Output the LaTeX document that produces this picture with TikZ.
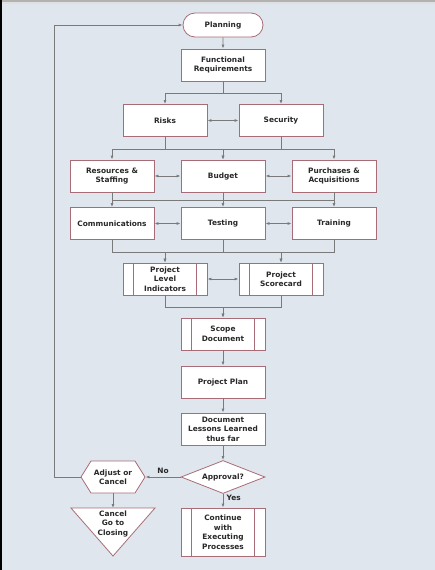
\documentclass[tikz,border=0pt]{standalone}
\usepackage{fontspec}
\setmainfont{DejaVu Sans}
\usetikzlibrary{arrows.meta,shapes.geometric,shapes.misc,shapes.symbols}
\definecolor{pageBg}{RGB}{224,230,237}
\definecolor{boxEdge}{RGB}{168,108,118}
\definecolor{wireCol}{RGB}{122,122,122}
\definecolor{ink}{RGB}{40,40,40}
\tikzset{plflow/.style={
  x=1pt, y=-1pt,
  font=\fontsize{7.4}{9.5}\selectfont\bfseries, text=ink,
  task/.style={draw=boxEdge, fill=white, line width=0.8pt, minimum width=84pt, minimum height=32pt, inner sep=2pt, align=center},
  subproc/.style={task, path picture={
      \draw[boxEdge, line width=0.8pt] ([xshift=10.5pt]path picture bounding box.north west) -- ([xshift=10.5pt]path picture bounding box.south west);
      \draw[boxEdge, line width=0.8pt] ([xshift=-10.5pt]path picture bounding box.north east) -- ([xshift=-10.5pt]path picture bounding box.south east);}},
  term/.style={task, rounded rectangle, minimum height=24pt},
  decide/.style={draw=boxEdge, fill=white, line width=0.8pt, diamond, aspect=2.5, inner sep=0pt, minimum width=84pt, minimum height=33pt},
  hexa/.style={draw=boxEdge, fill=white, line width=0.8pt, signal, signal to=west and east, signal pointer angle=116, inner sep=1pt, minimum width=64pt, minimum height=32pt, align=center},
  wire/.style={-{Latex[length=4pt,width=3pt]}, draw=wireCol, line width=0.8pt},
  both/.style={{Latex[length=4pt,width=3pt]}-{Latex[length=4pt,width=3pt]}, draw=wireCol, line width=0.8pt},
  bus/.style={draw=wireCol, line width=0.8pt},
}}

\begin{document}
\begin{tikzpicture}[plflow]
% =====================================================================
%  page: background, top rule and left edge
% =====================================================================
\useasboundingbox[fill=pageBg] (0,0) rectangle (435,570);
\fill[black!30] (0,0) rectangle (435,2);
\fill[black!12] (0,2) rectangle (435,3.5);
\fill[black] (0,0) rectangle (1.6,570);

% =====================================================================
%  planning chain
% =====================================================================
\node[term] (Plan) at (223,25) {Planning};
\node[task] (Func) at (223,65) {Functional\\Requirements};

\node[task] (Risks) at (165,120.5) {Risks};
\node[task] (Sec)   at (281,120.5) {Security};

\node[task] (Res) at (112,176) {Resources \&\\Staffing};
\node[task] (Bud) at (223,176) {Budget};
\node[task] (Pur) at (334,176) {Purchases \&\\Acquisitions};

\node[task] (Comm)  at (112,223.5) {Communications};
\node[task] (Test)  at (223,223.5) {Testing};
\node[task] (Train) at (334,223.5) {Training};

\node[subproc] (PLI) at (165,279) {Project\\Level\\Indicators};
\node[subproc] (PS)  at (281,279) {Project\\Scorecard};

\node[subproc] (Scope)   at (223,334) {Scope\\Document};
\node[task]    (PPlan)   at (223,382) {Project Plan};
\node[task]    (Lessons) at (223,429) {Document\\Lessons Learned\\thus far};
\node[decide]  (Approve) at (223,477) {Approval?};
\node[subproc, minimum height=48pt] (Cont) at (223,532) {Continue\\with\\Executing\\Processes};

\node[hexa] (Adjust) at (113,477) {Adjust or\\Cancel};
\draw[draw=boxEdge, fill=white, line width=0.8pt] (71,508) -- (155,508) -- (113,556) -- cycle;
\coordinate (CloseTop) at (113,508);
\node[align=center] (Close) at (113,523.5) {Cancel\\Go to\\Closing};

% ---- connectors
\draw[wire] (Plan) -- (Func);
\draw[wire] (Func.south) -- ++(0,12) -| (Risks.north);
\draw[wire] (Func.south) -- ++(0,12) -| (Sec.north);
\draw[both] (Risks) -- (Sec);

\draw[wire] (Risks.south) -- ++(0,12) -| (Res.north);
\draw[wire] (Risks.south) -- ++(0,12) -| (Bud.north);
\draw[wire] (Sec.south) -- ++(0,12) -| (Bud.north);
\draw[wire] (Sec.south) -- ++(0,12) -| (Pur.north);
\draw[both] (Res) -- (Bud);
\draw[both] (Bud) -- (Pur);

\draw[wire] (Res) -- (Comm);
\draw[wire] (Bud) -- (Test);
\draw[wire] (Pur) -- (Train);
\draw[bus] (Res.south) ++(0,8) -| (Pur.south);
\draw[both] (Comm) -- (Test);
\draw[both] (Test) -- (Train);

\draw[wire] (Comm.south) -- ++(0,12) -| (PLI.north);
\draw[wire] (Test.south) -- ++(0,12) -| (PLI.north);
\draw[wire] (Test.south) -- ++(0,12) -| (PS.north);
\draw[wire] (Train.south) -- ++(0,12) -| (PS.north);
\draw[both] (PLI) -- (PS);

\draw[wire] (PLI.south) -- ++(0,12) -| (Scope.north);
\draw[wire] (PS.south) -- ++(0,12) -| (Scope.north);
\draw[wire] (Scope) -- (PPlan);
\draw[wire] (PPlan) -- (Lessons);
\draw[wire] (Lessons) -- (Approve);

\draw[wire] (Approve.west) -- node[above, pos=0.5] {No} (Adjust.east);
\draw[wire] (Approve.south) -- node[right, pos=0.3] {Yes} (Cont.north);
\draw[wire] (Adjust.south) -- (CloseTop);
\draw[wire] (Adjust.west) -- ++(-26,0) |- (Plan.west);
\end{tikzpicture}
\end{document}
